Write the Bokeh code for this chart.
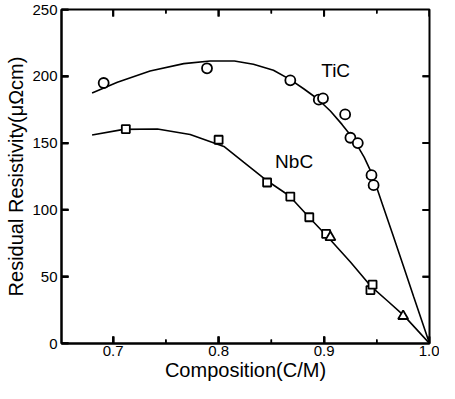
import math
from bokeh.plotting import figure
from bokeh.models import LinearAxis, FixedTicker, Label, Range1d, Title
from bokeh.embed import file_html
from bokeh.resources import INLINE

# ---- data ----
tic_x = [0.691, 0.789, 0.868, 0.895, 0.899, 0.920, 0.925, 0.932, 0.945, 0.947]
tic_y = [195.0, 206.0, 197.0, 182.5, 183.5, 171.5, 154.0, 150.0, 126.0, 118.5]

nbc_sq_x = [0.712, 0.800, 0.846, 0.868, 0.886, 0.902, 0.944, 0.946]
nbc_sq_y = [160.5, 152.5, 120.5, 110.0, 94.5, 82.0, 40.0, 44.0]

nbc_tri_x = [0.906, 0.975]
nbc_tri_y = [79.5, 20.5]

tic_curve_x = [0.680, 0.704, 0.735, 0.767, 0.792, 0.815, 0.833, 0.852, 0.868, 0.881,
               0.894, 0.906, 0.917, 0.928, 0.938, 0.946, 0.955, 0.965, 0.975, 0.985, 1.0]
tic_curve_y = [187.5, 195.5, 204.0, 209.5, 211.5, 211.5, 209.0, 204.5, 197.5, 190.5,
               183.0, 174.0, 164.0, 153.0, 139.5, 126.0, 105.0, 82.0, 58.5, 35.0, 0.0]

nbc_curve_x = [0.680, 0.710, 0.742, 0.773, 0.805, 0.824, 0.846, 0.867, 0.886, 0.904,
               0.925, 0.944, 0.960, 0.976, 1.0]
nbc_curve_y = [156.0, 160.3, 160.5, 156.5, 147.5, 135.5, 121.8, 110.6, 94.3, 79.3,
               61.0, 43.2, 32.0, 20.7, 0.0]

x_ticks = [0.7, 0.8, 0.9, 1.0]
x_tick_labels = ["0.7", "0.8", "0.9", "1.0"]
x_minor = [0.75, 0.85, 0.95]
y_ticks = [0, 50, 100, 150, 200, 250]
y_tick_labels = ["0", "50", "100", "150", "200", "250"]
right_ticks = [50, 100, 150, 200]

X0, X1 = 0.651, 1.0
Y0, Y1 = 0, 250

FONT = "Liberation Sans"
W, H = 439, 383
B_LEFT, B_RIGHT, B_TOP, B_BOTTOM = 60, 10, 9, 40

p = figure(width=W, height=H, output_backend="svg", toolbar_location=None,
           x_range=Range1d(X0, X1), y_range=Range1d(Y0, Y1),
           min_border_left=B_LEFT, min_border_right=B_RIGHT,
           min_border_top=B_TOP, min_border_bottom=B_BOTTOM,
           x_axis_type=None, y_axis_type=None)
p.grid.visible = False
p.outline_line_color = "black"
p.outline_line_width = 2
p.background_fill_color = "white"
p.border_fill_color = "white"


def style_axis(ax, ticks, labels, standoff):
    ax.ticker = FixedTicker(ticks=ticks, minor_ticks=[])
    ax.axis_line_width = 2
    ax.axis_line_color = "black"
    ax.major_tick_in = 7
    ax.major_tick_out = 0
    ax.major_tick_line_width = 2
    ax.minor_tick_in = 0
    ax.minor_tick_out = 0
    ax.major_label_standoff = standoff
    ax.major_label_overrides = dict(zip(ticks, labels))
    ax.major_label_text_font = FONT
    ax.major_label_text_font_size = "15px"
    ax.major_label_text_color = "black"


bottom = LinearAxis(axis_label="Composition(C/M)")
style_axis(bottom, x_ticks, x_tick_labels, 2)
bottom.axis_label_standoff = 0
bottom.axis_label_text_font = FONT
bottom.axis_label_text_font_size = "20px"
bottom.axis_label_text_font_style = "normal"
bottom.axis_label_text_color = "black"
p.add_layout(bottom, "below")

left = LinearAxis()
style_axis(left, y_ticks, y_tick_labels, 4)
p.add_layout(left, "left")

p.add_layout(Title(text="Residual Resistivity(\u03bc\u03a9cm)", align="center",
                   text_font=FONT, text_font_size="20px", text_font_style="normal",
                   text_color="black", standoff=5), "left")

# inward tick marks on all four sides (from the tick arrays)
frame_w = W - B_LEFT - B_RIGHT
frame_h = H - B_TOP - B_BOTTOM
dx = (X1 - X0) / frame_w
dy = (Y1 - Y0) / frame_h
MAJ, MIN = 7, 4

maj_xs = [[t, t] for t in x_ticks] + [[t, t] for t in x_ticks] \
    + [[X0, X0 + MAJ * dx] for _ in y_ticks] + [[X1, X1 - MAJ * dx] for _ in right_ticks]
maj_ys = [[Y0, Y0 + MAJ * dy] for _ in x_ticks] + [[Y1, Y1 - MAJ * dy] for _ in x_ticks] \
    + [[t, t] for t in y_ticks] + [[t, t] for t in right_ticks]
p.multi_line(xs=maj_xs, ys=maj_ys, line_color="black", line_width=2)

min_xs = [[t, t] for t in x_minor] + [[t, t] for t in x_minor]
min_ys = [[Y0, Y0 + MIN * dy] for _ in x_minor] + [[Y1, Y1 - MIN * dy] for _ in x_minor]
p.multi_line(xs=min_xs, ys=min_ys, line_color="black", line_width=1.5)

# tick marks again as dash markers centred on the frame edge (outer half clipped)
dash = dict(marker="dash", line_color="black")
p.scatter(x_ticks, [Y0] * len(x_ticks), size=2 * MAJ, angle=math.pi / 2, line_width=2, **dash)
p.scatter(x_ticks, [Y1] * len(x_ticks), size=2 * MAJ, angle=math.pi / 2, line_width=2, **dash)
p.scatter(x_minor, [Y0] * len(x_minor), size=2 * MIN, angle=math.pi / 2, line_width=1.5, **dash)
p.scatter(x_minor, [Y1] * len(x_minor), size=2 * MIN, angle=math.pi / 2, line_width=1.5, **dash)
p.scatter([X0] * len(y_ticks), y_ticks, size=2 * MAJ, angle=0, line_width=2, **dash)
p.scatter([X1] * len(right_ticks), right_ticks, size=2 * MAJ, angle=0, line_width=2, **dash)

# curves
p.line(tic_curve_x, tic_curve_y, line_color="black", line_width=1.6)
p.line(nbc_curve_x, nbc_curve_y, line_color="black", line_width=1.6)

# markers
p.scatter(tic_x, tic_y, marker="circle", size=10, fill_color="white",
          line_color="black", line_width=1.8)
p.scatter(nbc_sq_x, nbc_sq_y, marker="square", size=8, fill_color="white",
          line_color="black", line_width=1.8)
p.scatter(nbc_tri_x, nbc_tri_y, marker="triangle", size=10, fill_color="white",
          line_color="black", line_width=1.8)

# series labels
p.add_layout(Label(x=0.911, y=204.7, text="TiC", text_font=FONT,
                   text_font_size="19px", text_align="center", text_baseline="middle",
                   text_color="black"))
p.add_layout(Label(x=0.8716, y=136.6, text="NbC", text_font=FONT,
                   text_font_size="19px", text_align="center", text_baseline="middle",
                   text_color="black"))

open("out.html", "w").write(file_html(p, INLINE))
